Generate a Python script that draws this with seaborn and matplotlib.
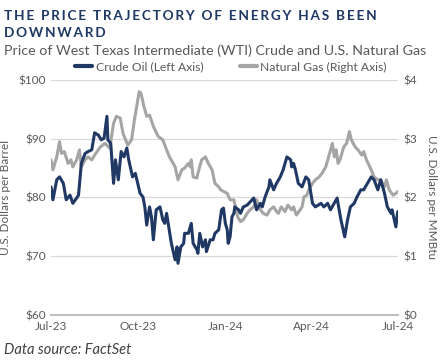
import pandas as pd
import matplotlib.pyplot as plt
import matplotlib.dates as mdates
import seaborn as sns

# WTI crude, USD per barrel (left axis)
oil_dates = ["2023-07-01", "2023-07-03", "2023-07-07", "2023-07-10", "2023-07-14", "2023-07-17",
             "2023-07-21", "2023-07-24", "2023-07-28", "2023-07-30", "2023-08-02", "2023-08-06",
             "2023-08-09", "2023-08-13", "2023-08-16", "2023-08-20", "2023-08-23", "2023-08-26",
             "2023-08-29", "2023-08-30", "2023-09-02", "2023-09-05", "2023-09-07", "2023-09-10",
             "2023-09-13", "2023-09-16", "2023-09-19", "2023-09-21", "2023-09-25", "2023-09-28",
             "2023-10-03", "2023-10-06", "2023-10-08", "2023-10-10", "2023-10-13", "2023-10-15",
             "2023-10-17", "2023-10-20", "2023-10-24", "2023-10-27", "2023-10-29", "2023-10-31",
             "2023-11-05", "2023-11-09", "2023-11-11", "2023-11-12", "2023-11-15", "2023-11-18",
             "2023-11-19", "2023-11-23", "2023-11-26", "2023-11-28", "2023-12-02", "2023-12-03",
             "2023-12-05", "2023-12-08", "2023-12-11", "2023-12-12", "2023-12-16", "2023-12-19",
             "2023-12-21", "2023-12-25", "2023-12-28", "2023-12-30", "2024-01-01", "2024-01-03",
             "2024-01-04", "2024-01-06", "2024-01-08", "2024-01-10", "2024-01-11", "2024-01-15",
             "2024-01-17", "2024-01-20", "2024-01-24", "2024-01-31", "2024-02-03", "2024-02-07",
             "2024-02-09", "2024-02-12", "2024-02-16", "2024-02-17", "2024-02-21", "2024-02-24",
             "2024-02-28", "2024-03-02", "2024-03-06", "2024-03-10", "2024-03-11", "2024-03-13",
             "2024-03-15", "2024-03-18", "2024-03-22", "2024-03-26", "2024-03-29", "2024-04-02",
             "2024-04-05", "2024-04-11", "2024-04-14", "2024-04-18", "2024-04-21", "2024-04-28",
             "2024-05-02", "2024-05-06", "2024-05-09", "2024-05-12", "2024-05-16", "2024-05-19",
             "2024-05-23", "2024-05-26", "2024-05-30", "2024-06-03", "2024-06-06", "2024-06-10",
             "2024-06-13", "2024-06-17", "2024-06-20", "2024-06-24", "2024-06-25", "2024-06-29",
             "2024-07-01"]
oil_prices = [81.8, 79.6, 83.0, 83.5, 82.4, 79.6, 80.4, 79.0, 79.9, 80.4, 85.8, 87.5,
              87.8, 88.1, 91.0, 90.6, 89.8, 90.1, 93.8, 89.8, 89.2, 82.4, 86.4, 83.0,
              87.8, 86.9, 88.4, 86.4, 83.5, 84.1, 80.7, 80.1, 78.4, 75.3, 78.4, 76.7,
              72.8, 77.9, 78.4, 76.2, 75.6, 77.3, 72.2, 69.4, 71.6, 68.8, 71.6, 72.2,
              73.9, 73.9, 75.6, 72.2, 71.1, 70.5, 73.9, 71.6, 72.8, 70.8, 72.8, 72.8,
              73.9, 74.5, 77.9, 78.2, 75.6, 74.5, 72.2, 73.3, 76.7, 77.3, 78.4, 77.9,
              77.3, 78.4, 78.7, 79.9, 77.9, 79.0, 78.4, 80.1, 81.8, 83.0, 81.3, 82.4,
              83.5, 84.7, 86.9, 86.4, 85.2, 85.8, 84.7, 82.4, 81.8, 83.5, 83.0, 79.0,
              78.4, 79.0, 78.4, 79.0, 77.9, 79.9, 76.2, 73.3, 76.2, 78.4, 79.0, 80.1,
              81.3, 81.3, 82.4, 83.5, 83.0, 81.3, 83.0, 80.7, 78.4, 77.3, 77.9, 75.0,
              77.6]

# U.S. natural gas, USD per MMBtu (right axis)
gas_dates = ["2023-07-01", "2023-07-03", "2023-07-07", "2023-07-10", "2023-07-12", "2023-07-15",
             "2023-07-19", "2023-07-22", "2023-07-24", "2023-07-28", "2023-07-31", "2023-08-02",
             "2023-08-06", "2023-08-09", "2023-08-13", "2023-08-16", "2023-08-22", "2023-08-27",
             "2023-09-01", "2023-09-05", "2023-09-08", "2023-09-12", "2023-09-15", "2023-09-20",
             "2023-09-24", "2023-09-27", "2023-09-30", "2023-10-02", "2023-10-04", "2023-10-07",
             "2023-10-10", "2023-10-13", "2023-10-17", "2023-10-22", "2023-10-27", "2023-10-31",
             "2023-11-03", "2023-11-09", "2023-11-12", "2023-11-16", "2023-11-19", "2023-11-23",
             "2023-11-25", "2023-11-26", "2023-11-28", "2023-12-02", "2023-12-03", "2023-12-07",
             "2023-12-11", "2023-12-14", "2023-12-18", "2023-12-21", "2023-12-25", "2023-12-27",
             "2024-01-03", "2024-01-06", "2024-01-10", "2024-01-14", "2024-01-17", "2024-01-20",
             "2024-01-24", "2024-01-27", "2024-01-31", "2024-02-03", "2024-02-07", "2024-02-10",
             "2024-02-14", "2024-02-17", "2024-02-21", "2024-02-24", "2024-02-26", "2024-02-29",
             "2024-03-04", "2024-03-07", "2024-03-11", "2024-03-13", "2024-03-16", "2024-03-20",
             "2024-03-22", "2024-03-24", "2024-03-27", "2024-03-29", "2024-04-02", "2024-04-05",
             "2024-04-09", "2024-04-12", "2024-04-16", "2024-04-19", "2024-04-22", "2024-04-23",
             "2024-04-25", "2024-04-27", "2024-04-29", "2024-05-01", "2024-05-05", "2024-05-08",
             "2024-05-11", "2024-05-13", "2024-05-17", "2024-05-20", "2024-05-24", "2024-05-26",
             "2024-05-29", "2024-06-03", "2024-06-06", "2024-06-10", "2024-06-13", "2024-06-17",
             "2024-06-19", "2024-06-22", "2024-06-26", "2024-06-29", "2024-07-01"]
gas_prices = [2.64, 2.47, 2.69, 2.95, 2.75, 2.78, 2.58, 2.64, 2.52, 2.64, 2.81, 2.52,
              2.64, 2.69, 2.64, 2.72, 2.86, 2.92, 2.84, 3.26, 3.38, 3.35, 3.09, 2.89,
              2.98, 3.32, 3.60, 3.80, 3.77, 3.55, 3.38, 3.40, 3.21, 3.04, 2.98, 2.81,
              2.69, 2.52, 2.30, 2.47, 2.50, 2.58, 2.52, 2.64, 2.35, 2.33, 2.41, 2.64,
              2.69, 2.58, 2.47, 2.24, 2.18, 2.13, 2.07, 1.96, 1.96, 1.67, 1.59, 1.62,
              1.73, 1.79, 1.84, 1.96, 1.79, 1.73, 1.70, 1.79, 1.84, 1.76, 1.73, 1.84,
              1.76, 1.87, 1.79, 1.84, 1.70, 1.79, 1.84, 2.01, 2.04, 2.13, 2.24, 2.30,
              2.35, 2.41, 2.52, 2.69, 2.86, 2.92, 2.69, 2.81, 2.58, 2.64, 2.86, 2.92,
              3.12, 2.98, 2.86, 2.81, 2.72, 2.78, 2.64, 2.47, 2.35, 2.30, 2.30, 2.18,
              2.30, 2.13, 2.04, 2.07, 2.10]

left_ticks = [60, 70, 80, 90, 100]
right_ticks = [0, 1, 2, 3, 4]
x_ticks = ["2023-07-01", "2023-10-01", "2024-01-01", "2024-04-01", "2024-07-01"]

navy = "#1f3864"
gray = "#a5a5a5"
text_gray = "#595959"

oil = pd.DataFrame({"date": pd.to_datetime(oil_dates), "price": oil_prices})
gas = pd.DataFrame({"date": pd.to_datetime(gas_dates), "price": gas_prices})

sns.set_style("white")
plt.rcParams["font.family"] = ["Lato", "DejaVu Sans"]

fig = plt.figure(figsize=(4.4, 3.63), dpi=100)
ax = fig.add_axes([0.116, 0.132, 0.788, 0.648])
ax2 = ax.twinx()

# gas first so that oil sits on top
sns.lineplot(data=gas, x="date", y="price", ax=ax2, color=gray, linewidth=2.2)
sns.lineplot(data=oil, x="date", y="price", ax=ax, color=navy, linewidth=2.2)
ax.set_zorder(ax2.get_zorder() + 1)
ax.patch.set_visible(False)

ax.set_ylim(60, 100)
ax2.set_ylim(0, 4)
ax.set_xlim(pd.Timestamp("2023-07-01"), pd.Timestamp("2024-07-01"))
ax.set_yticks(left_ticks)
ax.set_yticklabels([f"${v}" for v in left_ticks])
ax2.set_yticks(right_ticks)
ax2.set_yticklabels([f"${v}" for v in right_ticks])
ax.set_xticks(pd.to_datetime(x_ticks))
ax.xaxis.set_major_formatter(mdates.DateFormatter("%b-%y"))

ax2.grid(axis="y", color="#d9d9d9", linewidth=0.9)
ax2.set_axisbelow(True)
ax.grid(False)

for a in (ax, ax2):
    for s in ("top", "left", "right"):
        a.spines[s].set_visible(False)
    a.spines["bottom"].set_color("#bfbfbf")
    a.spines["bottom"].set_linewidth(1.5)
    a.tick_params(length=0, labelsize=8.5, labelcolor=text_gray, pad=4)
ax2.spines["bottom"].set_visible(False)

ax.set_xlabel("")
ax.set_ylabel("U.S. Dollars per Barrel", fontsize=8.5, color=text_gray, labelpad=5)
ax2.set_ylabel("U.S. Dollars per MMBtu", fontsize=8.5, color=text_gray,
               rotation=270, labelpad=14)

handles = [plt.Line2D([], [], color=navy, linewidth=3),
           plt.Line2D([], [], color=gray, linewidth=3)]
fig.legend(handles, ["Crude Oil (Left Axis)", "Natural Gas (Right Axis)"],
           loc="center", bbox_to_anchor=(0.525, 0.815), ncol=2, frameon=False,
           fontsize=8.7, labelcolor=text_gray, handlelength=1.4, handletextpad=0.3,
           columnspacing=3.0)

title_1 = "\u2009".join("THE PRICE TRAJECTORY OF ENERGY HAS BEEN")
title_2 = "\u2009".join("DOWNWARD")
fig.text(0.009, 0.972, title_1, fontsize=9.8, fontweight="bold", color=navy, va="top")
fig.text(0.009, 0.925, title_2, fontsize=9.8, fontweight="bold", color=navy, va="top")
fig.text(0.009, 0.878, "Price of West Texas Intermediate (WTI) Crude and U.S. Natural Gas",
         fontsize=10.3, color=text_gray, va="top")
fig.text(0.009, 0.035, "Data source: FactSet", fontsize=10.5, style="italic",
         color="#404040", va="center")

fig.savefig("out.png", dpi=100)
